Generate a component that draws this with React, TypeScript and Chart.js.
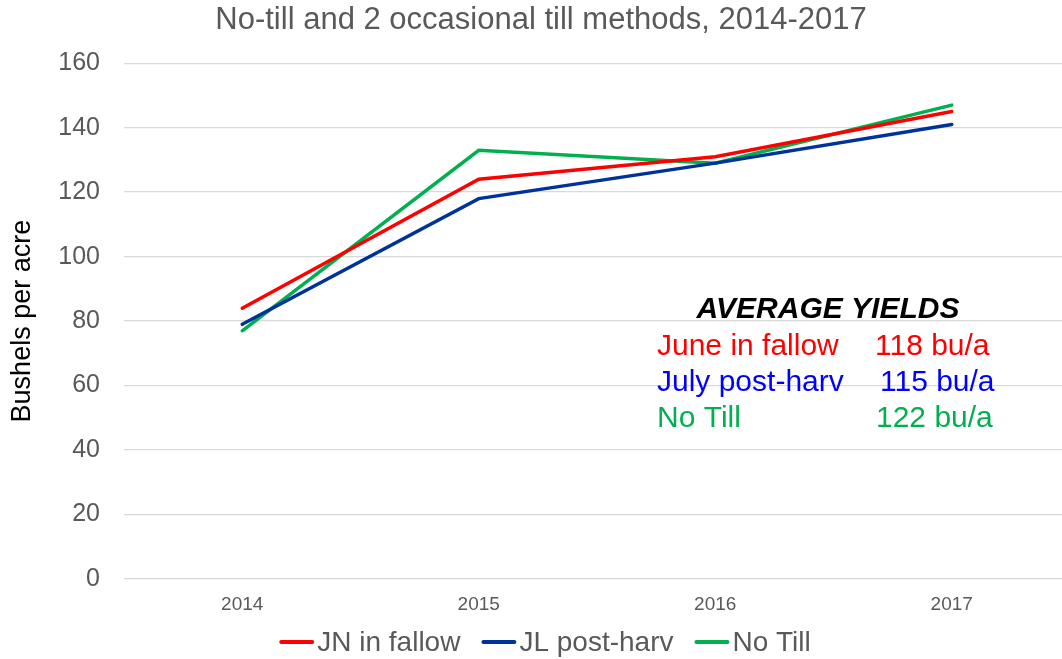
import React, { useEffect, useRef } from "react";
import { Chart, registerables } from "chart.js";

Chart.register(...registerables);

const years = ["2014", "2015", "2016", "2017"];
const jnFallow = [84, 124, 131, 145];
const jlPostHarv = [79, 118, 129, 141];
const noTill = [77, 133, 129, 147];
const yTicks = [0, 20, 40, 60, 80, 100, 120, 140, 160];
const seriesColors = ["#FF0000", "#003399", "#00B050"];
const avgLabels = ["June in fallow", "July post-harv", "No Till"];
const avgValues = ["118 bu/a", "115 bu/a", "122 bu/a"];
const avgColors = ["#FF0000", "#0000FF", "#00B050"];

const FONT = "'Liberation Sans', Arial, sans-serif";
const GRAY = "#595959";

const annotationPlugin = {
  id: "avgYields",
  afterDatasetsDraw(chart: any) {
    const ctx = chart.ctx;
    ctx.save();
    ctx.textBaseline = "alphabetic";
    ctx.font = `italic bold 30px ${FONT}`;
    ctx.fillStyle = "#000000";
    ctx.textAlign = "center";
    ctx.fillText("AVERAGE YIELDS", 828, 318);
    ctx.font = `30px ${FONT}`;
    ctx.textAlign = "left";
    const baselines = [355, 391, 427];
    const valueX = [875, 880, 876];
    for (let i = 0; i < avgLabels.length; i++) {
      ctx.fillStyle = avgColors[i];
      ctx.fillText(avgLabels[i], 657, baselines[i]);
      ctx.fillText(avgValues[i], valueX[i], baselines[i]);
    }
    ctx.restore();
  },
};

const bottomLegendPlugin = {
  id: "bottomLegend",
  afterDraw(chart: any) {
    const ctx = chart.ctx;
    const ds = chart.data.datasets;
    const markW = 35;
    const gapText = 3;
    const gapItem = 21;
    const cy = 642;
    ctx.save();
    ctx.font = `28px ${FONT}`;
    const widths = ds.map((d: any) => ctx.measureText(d.label).width);
    const total = widths.reduce((a: number, w: number) => a + w + markW + gapText, 0) + gapItem * (ds.length - 1);
    let x = 545 - total / 2;
    ds.forEach((d: any, i: number) => {
      ctx.strokeStyle = d.borderColor;
      ctx.lineWidth = 4;
      ctx.lineCap = "round";
      ctx.beginPath();
      ctx.moveTo(x + 2, cy);
      ctx.lineTo(x + markW - 2, cy);
      ctx.stroke();
      x += markW + gapText;
      ctx.fillStyle = GRAY;
      ctx.textBaseline = "middle";
      ctx.textAlign = "left";
      ctx.fillText(d.label, x, cy + 1);
      x += widths[i] + gapItem;
    });
    ctx.restore();
  },
};

export default function App() {
  const ref = useRef<HTMLCanvasElement | null>(null);
  useEffect(() => {
    if (!ref.current) return;
    const mk = (label: string, data: number[], color: string) => ({
      label,
      data,
      borderColor: color,
      backgroundColor: color,
      borderWidth: 3.5,
      borderCapStyle: "round" as const,
      pointRadius: 0,
      tension: 0,
    });
    const chart = new Chart(ref.current, {
      type: "line",
      data: {
        labels: years,
        datasets: [
          mk("JN in fallow", jnFallow, seriesColors[0]),
          mk("JL post-harv", jlPostHarv, seriesColors[1]),
          mk("No Till", noTill, seriesColors[2]),
        ],
      },
      options: {
        animation: false,
        responsive: false,
        maintainAspectRatio: false,
        layout: { padding: { left: 12, right: 0, top: 2, bottom: 40 } },
        plugins: {
          title: {
            display: true,
            text: "No-till and 2 occasional till methods, 2014-2017",
            color: GRAY,
            font: { family: FONT, size: 31, weight: "normal", lineHeight: 1.2 },
            padding: { top: 0, bottom: 24 },
          },
          legend: { display: false },
          tooltip: { enabled: false },
        },
        scales: {
          x: {
            offset: true,
            grid: { display: false, drawTicks: false },
            border: { display: false },
            ticks: { color: GRAY, font: { family: FONT, size: 19 }, padding: 14 },
            afterFit: (s: any) => { s.height = 40; },
          },
          y: {
            min: 0,
            max: 160,
            afterBuildTicks: (s: any) => { s.ticks = yTicks.map((v) => ({ value: v })); },
            grid: { color: "#D9D9D9", lineWidth: 1.3, drawTicks: false },
            border: { display: false },
            title: {
              display: true,
              text: "Bushels per acre",
              color: "#000000",
              font: { family: FONT, size: 27, lineHeight: 0.8 },
              padding: { top: 0, bottom: 0 },
            },
            ticks: { color: GRAY, font: { family: FONT, size: 25 }, padding: 24 },
            afterFit: (s: any) => { s.width = 112; },
          },
        },
      },
      plugins: [annotationPlugin, bottomLegendPlugin],
    });
    return () => chart.destroy();
  }, []);
  return (
    <div style={{ position: "fixed", left: 0, top: 0, width: 1070, height: 659, background: "#fff" }}>
      <canvas ref={ref} width={1070} height={659} style={{ display: "block" }} />
    </div>
  );
}
